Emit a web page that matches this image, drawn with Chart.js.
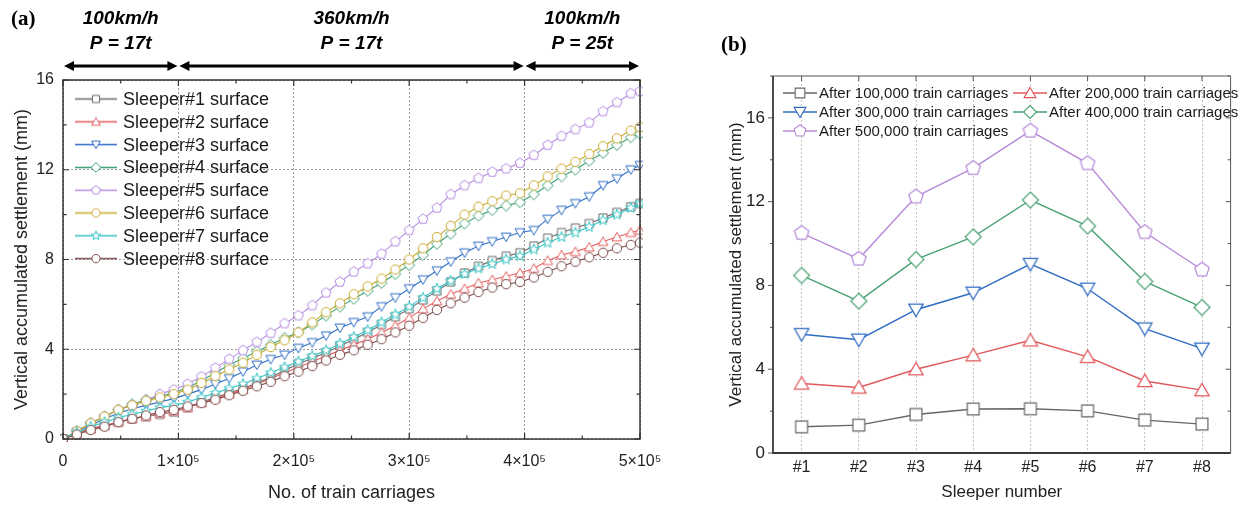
<!DOCTYPE html>
<html>
<head>
<meta charset="utf-8">
<script src="https://cdn.jsdelivr.net/npm/chart.js@4.4.0/dist/chart.umd.min.js"></script>
<style>
  body { margin: 0; background: #fff; width: 1239px; height: 506px; overflow: hidden; position: relative; }
  canvas { position: absolute; top: 0; }
  #chartA { left: 0; }
  #chartB { left: 680px; }
</style>
</head>
<body>
<canvas id="chartA" width="680" height="506"></canvas>
<canvas id="chartB" width="559" height="506"></canvas>
<script>
// ---- panel (a): settlement vs number of train carriages ----
const carriages = [0, 12000, 24000, 36000, 48000, 60000, 72000, 84000, 96000, 108000,
  120000, 132000, 144000, 156000, 168000, 180000, 192000, 204000, 216000, 228000,
  240000, 252000, 264000, 276000, 288000, 300000, 312000, 324000, 336000, 348000,
  360000, 372000, 384000, 396000, 408000, 420000, 432000, 444000, 456000, 468000,
  480000, 492000, 500000];

const sleeper1 = [0, 0.25, 0.45, 0.6, 0.75, 0.9, 1.0, 1.1, 1.2, 1.4, 1.65, 1.85, 2.05, 2.25, 2.5, 2.75, 3.05, 3.35, 3.6, 3.85, 4.15, 4.45, 4.75, 5.1, 5.45, 5.8, 6.2, 6.6, 7.0, 7.4, 7.7, 7.95, 8.15, 8.3, 8.6, 8.95, 9.2, 9.4, 9.6, 9.85, 10.1, 10.35, 10.5];
const sleeper2 = [0, 0.25, 0.45, 0.6, 0.75, 0.9, 1.0, 1.15, 1.25, 1.4, 1.6, 1.8, 2.0, 2.2, 2.45, 2.7, 2.95, 3.2, 3.45, 3.7, 3.95, 4.2, 4.45, 4.75, 5.05, 5.4, 5.8, 6.15, 6.45, 6.7, 6.95, 7.1, 7.25, 7.4, 7.6, 7.95, 8.2, 8.35, 8.55, 8.8, 9.0, 9.2, 9.3];
const sleeper3 = [0, 0.3, 0.6, 0.9, 1.15, 1.35, 1.5, 1.65, 1.8, 2.0, 2.2, 2.45, 2.7, 3.0, 3.3, 3.55, 3.75, 4.05, 4.3, 4.6, 4.95, 5.2, 5.45, 5.9, 6.3, 6.7, 7.1, 7.5, 7.9, 8.3, 8.6, 8.8, 9.0, 9.2, 9.3, 9.8, 10.2, 10.5, 10.8, 11.3, 11.6, 12.0, 12.2];
const sleeper4 = [0, 0.35, 0.7, 1.0, 1.3, 1.55, 1.75, 1.9, 2.05, 2.3, 2.6, 2.95, 3.3, 3.6, 3.9, 4.2, 4.5, 4.75, 5.1, 5.5, 5.9, 6.25, 6.6, 6.95, 7.35, 7.75, 8.2, 8.7, 9.15, 9.6, 9.95, 10.2, 10.4, 10.55, 10.9, 11.3, 11.7, 12.0, 12.4, 12.75, 13.1, 13.45, 13.6];
const sleeper5 = [0, 0.35, 0.7, 1.0, 1.3, 1.5, 1.72, 2.0, 2.2, 2.45, 2.78, 3.17, 3.56, 3.95, 4.32, 4.72, 5.15, 5.5, 5.95, 6.52, 7.0, 7.45, 7.82, 8.25, 8.8, 9.3, 9.8, 10.3, 10.9, 11.3, 11.62, 11.9, 12.05, 12.3, 12.65, 13.1, 13.5, 13.8, 14.1, 14.6, 15.0, 15.4, 15.5];
const sleeper6 = [0, 0.35, 0.7, 1.0, 1.3, 1.5, 1.7, 1.85, 2.0, 2.2, 2.5, 2.8, 3.1, 3.4, 3.75, 4.1, 4.4, 4.75, 5.2, 5.65, 6.05, 6.45, 6.8, 7.15, 7.55, 8.0, 8.5, 9.0, 9.5, 10.0, 10.35, 10.6, 10.85, 10.95, 11.3, 11.7, 12.05, 12.35, 12.7, 13.05, 13.4, 13.75, 13.9];
const sleeper7 = [0, 0.3, 0.55, 0.75, 0.95, 1.1, 1.25, 1.4, 1.5, 1.65, 1.85, 2.05, 2.25, 2.45, 2.7, 2.95, 3.2, 3.45, 3.7, 3.95, 4.25, 4.55, 4.85, 5.2, 5.55, 5.9, 6.3, 6.7, 7.05, 7.35, 7.6, 7.8, 8.0, 8.15, 8.45, 8.75, 9.0, 9.2, 9.45, 9.75, 10.0, 10.3, 10.5];
const sleeper8 = [0, 0.2, 0.4, 0.55, 0.75, 0.9, 1.05, 1.2, 1.3, 1.45, 1.6, 1.75, 1.95, 2.15, 2.35, 2.55, 2.8, 3.0, 3.25, 3.5, 3.75, 3.95, 4.2, 4.45, 4.75, 5.05, 5.4, 5.75, 6.05, 6.3, 6.55, 6.75, 6.9, 7.0, 7.2, 7.45, 7.7, 7.9, 8.1, 8.3, 8.5, 8.65, 8.75];

const sleeperLabels = ["Sleeper#1 surface", "Sleeper#2 surface", "Sleeper#3 surface", "Sleeper#4 surface",
  "Sleeper#5 surface", "Sleeper#6 surface", "Sleeper#7 surface", "Sleeper#8 surface"];
const xTickValues = [0, 100000, 200000, 300000, 400000, 500000];
const xTickLabels = ["0", "1×10⁵", "2×10⁵", "3×10⁵", "4×10⁵", "5×10⁵"];
const yTickValuesA = [0, 4, 8, 12, 16];

// loading stages above panel (a)
const stageBounds = [0, 100000, 400000, 500000];
const stageSpeeds = ["100km/h", "360km/h", "100km/h"];
const stageLoads = ["P = 17t", "P = 17t", "P = 25t"];

// ---- panel (b): settlement along the sleepers ----
const sleeperNumbers = ["#1", "#2", "#3", "#4", "#5", "#6", "#7", "#8"];
const after100k = [1.25, 1.33, 1.84, 2.1, 2.11, 2.01, 1.57, 1.38];
const after200k = [3.32, 3.13, 4.0, 4.67, 5.38, 4.59, 3.44, 3.0];
const after300k = [5.67, 5.41, 6.84, 7.65, 9.02, 7.84, 5.94, 4.98];
const after400k = [8.48, 7.25, 9.24, 10.32, 12.08, 10.83, 8.19, 6.95];
const after500k = [10.5, 9.27, 12.24, 13.6, 15.38, 13.83, 10.54, 8.75];
const afterLabels = ["After 100,000 train carriages", "After 200,000 train carriages",
  "After 300,000 train carriages", "After 400,000 train carriages", "After 500,000 train carriages"];
const yTickValuesB = [0, 4, 8, 12, 16];

const SANS = "'Liberation Sans', Arial, sans-serif";
const SERIF = "'Liberation Serif', 'Times New Roman', serif";
Chart.defaults.font.family = SANS;
Chart.defaults.color = "#222";

// marker shapes drawn onto small canvases (used as pointStyle images)
function tracePath(g, shape, r) {
  const poly = (n, rot, rad) => {
    for (let i = 0; i < n; i++) {
      const a = rot + i * 2 * Math.PI / n;
      if (i) g.lineTo(rad * Math.cos(a), rad * Math.sin(a));
      else g.moveTo(rad * Math.cos(a), rad * Math.sin(a));
    }
    g.closePath();
  };
  g.beginPath();
  if (shape === "square") g.rect(-r * 0.78, -r * 0.78, r * 1.56, r * 1.56);
  else if (shape === "circle") g.arc(0, 0, r * 0.9, 0, 2 * Math.PI);
  else if (shape === "triangle") { g.translate(0, r * 0.2); poly(3, -Math.PI / 2, r * 1.1); }
  else if (shape === "triangleDown") { g.translate(0, -r * 0.2); poly(3, Math.PI / 2, r * 1.1); }
  else if (shape === "diamond") poly(4, -Math.PI / 2, r * 1.05);
  else if (shape === "pentagon") poly(5, -Math.PI / 2, r);
  else if (shape === "star") {
    for (let i = 0; i < 10; i++) {
      const a = -Math.PI / 2 + i * Math.PI / 5;
      const rad = i % 2 ? r * 0.45 : r * 1.05;
      if (i) g.lineTo(rad * Math.cos(a), rad * Math.sin(a));
      else g.moveTo(rad * Math.cos(a), rad * Math.sin(a));
    }
    g.closePath();
  }
}

function markerImage(shape, color, r, lw) {
  const s = Math.ceil(2.4 * r + lw + 2);
  const c = document.createElement("canvas");
  c.width = s; c.height = s;
  const g = c.getContext("2d");
  g.translate(s / 2, s / 2);
  tracePath(g, shape, r);
  g.fillStyle = "#fff"; g.fill();
  g.strokeStyle = color; g.lineWidth = lw; g.stroke();
  return c;
}

function legendIcon(shape, color, r, lw, lineW, len) {
  const h = Math.ceil(2.4 * r + lw + 2);
  const c = document.createElement("canvas");
  c.width = len; c.height = h;
  const g = c.getContext("2d");
  g.strokeStyle = color; g.lineWidth = lineW;
  g.beginPath(); g.moveTo(0, h / 2); g.lineTo(len, h / 2); g.stroke();
  g.translate(len / 2, h / 2);
  tracePath(g, shape, r);
  g.fillStyle = "#fff"; g.fill();
  g.lineWidth = lw; g.stroke();
  return c;
}

function drawArrow(ctx, x1, x2, y) {
  const head = 10, half = 5;
  ctx.beginPath();
  ctx.moveTo(x1 + head - 1, y); ctx.lineTo(x2 - head + 1, y);
  ctx.stroke();
  ctx.beginPath();
  ctx.moveTo(x1, y); ctx.lineTo(x1 + head, y - half); ctx.lineTo(x1 + head, y + half); ctx.closePath();
  ctx.moveTo(x2, y); ctx.lineTo(x2 - head, y - half); ctx.lineTo(x2 - head, y + half); ctx.closePath();
  ctx.fill();
}

// ---------------- panel (a) ----------------
const seriesA = [sleeper1, sleeper2, sleeper3, sleeper4, sleeper5, sleeper6, sleeper7, sleeper8];
const colorsA = ["#6a6a6a", "#e35d5f", "#2f6ec4", "#3e9f72", "#b68be2", "#c9aa2e", "#34c4c4", "#7b4b4b"];
const shapesA = ["square", "triangle", "triangleDown", "diamond", "pentagon", "circle", "star", "circle"];

const panelAPlugin = {
  id: "panelA",
  afterDatasetsDraw(chart) {
    const { ctx, chartArea: a, scales: { x, y } } = chart;
    ctx.save();
    ctx.strokeStyle = "#333";
    ctx.lineWidth = 1.5;
    ctx.strokeRect(a.left, a.top, a.right - a.left, a.bottom - a.top);

    // inward ticks, major + minor
    ctx.lineWidth = 1.2;
    ctx.beginPath();
    for (let v = 0; v <= 500000; v += 50000) {
      const px = x.getPixelForValue(v);
      const len = v % 100000 === 0 ? 6 : 3.5;
      ctx.moveTo(px, a.bottom); ctx.lineTo(px, a.bottom - len);
      ctx.moveTo(px, a.top); ctx.lineTo(px, a.top + len);
    }
    for (let v = 0; v <= 16; v += 2) {
      const py = y.getPixelForValue(v);
      const len = v % 4 === 0 ? 6 : 3.5;
      ctx.moveTo(a.left, py); ctx.lineTo(a.left + len, py);
      ctx.moveTo(a.right, py); ctx.lineTo(a.right - len, py);
    }
    ctx.stroke();

    // legend inside plot
    ctx.font = "18px " + SANS;
    ctx.fillStyle = "#1a1a1a";
    ctx.textBaseline = "middle";
    ctx.textAlign = "left";
    chart.data.datasets.forEach((ds, i) => {
      const yy = a.top + 19 + i * 22.8;
      const icon = ds.legendIcon;
      ctx.drawImage(icon, a.left + 12, yy - icon.height / 2);
      ctx.fillText(ds.label, a.left + 60, yy + 1);
    });
    ctx.restore();
  },
  afterDraw(chart) {
    const { ctx, scales: { x } } = chart;
    ctx.save();
    ctx.fillStyle = "#000";
    ctx.strokeStyle = "#000";
    ctx.textBaseline = "middle";
    ctx.font = "bold 21px " + SERIF;
    ctx.textAlign = "left";
    ctx.fillText("(a)", 11, 20);

    ctx.font = "italic bold 19px " + SANS;
    ctx.textAlign = "center";
    ctx.lineWidth = 3;
    for (let i = 0; i < stageSpeeds.length; i++) {
      const x1 = x.getPixelForValue(stageBounds[i]);
      const x2 = x.getPixelForValue(stageBounds[i + 1]);
      const cx = (x1 + x2) / 2;
      ctx.fillText(stageSpeeds[i], cx, 19);
      ctx.fillText(stageLoads[i], cx, 44);
      drawArrow(ctx, x1 + 1, x2 - 1, 66);
    }
    ctx.restore();
  }
};

new Chart(document.getElementById("chartA"), {
  type: "line",
  data: {
    datasets: seriesA.map((vals, i) => ({
      label: sleeperLabels[i],
      data: carriages.map((c, j) => ({ x: c, y: vals[j] })),
      borderColor: colorsA[i],
      borderWidth: 1.1,
      pointStyle: markerImage(shapesA[i], colorsA[i], 5.2, 1),
      pointRadius: 5,
      pointHoverRadius: 5,
      tension: 0,
      clip: 3,
      order: 8 - i,
      legendIcon: legendIcon(shapesA[i], colorsA[i], 4.6, 1, 1.6, 42)
    }))
  },
  options: {
    responsive: false,
    animation: false,
    events: [],
    layout: { padding: { top: 80, right: 40, bottom: 0, left: 0 } },
    plugins: { legend: { display: false }, tooltip: { enabled: false } },
    scales: {
      x: {
        type: "linear",
        min: 0,
        max: 500000,
        afterBuildTicks: s => { s.ticks = xTickValues.map(v => ({ value: v })); },
        afterFit: s => { s.height = 67; },
        ticks: {
          callback: (v, i) => xTickLabels[i],
          font: { size: 16 },
          color: "#222",
          padding: 13,
          maxRotation: 0,
          autoSkip: false
        },
        grid: { color: "#9a9a9a", lineWidth: 1, drawTicks: false },
        border: { display: false, dash: [2, 2] },
        title: {
          display: true,
          text: "No. of train carriages",
          font: { size: 18 },
          color: "#222",
          padding: { top: 0, bottom: 2 }
        }
      },
      y: {
        min: 0,
        max: 16,
        afterBuildTicks: s => { s.ticks = yTickValuesA.map(v => ({ value: v })); },
        afterFit: s => { s.width = 63; },
        ticks: { font: { size: 16 }, color: "#222", padding: 9 },
        grid: { color: "#9a9a9a", lineWidth: 1, drawTicks: false },
        border: { display: false, dash: [2, 2] },
        title: {
          display: true,
          text: "Vertical accumulated settlement (mm)",
          font: { size: 18 },
          color: "#222",
          padding: { top: 11, bottom: 0 }
        }
      }
    }
  },
  plugins: [panelAPlugin]
});

// ---------------- panel (b) ----------------
const seriesB = [after100k, after200k, after300k, after400k, after500k];
const colorsB = ["#676767", "#e0585c", "#2f6cc2", "#4aa274", "#b58ad9"];
const shapesB = ["square", "triangle", "triangleDown", "diamond", "pentagon"];

const panelBPlugin = {
  id: "panelB",
  afterDatasetsDraw(chart) {
    const { ctx, chartArea: a, scales: { x, y } } = chart;
    ctx.save();
    // thin top / right border
    ctx.strokeStyle = "#555";
    ctx.lineWidth = 1;
    ctx.beginPath();
    ctx.moveTo(a.left, a.top); ctx.lineTo(a.right, a.top); ctx.lineTo(a.right, a.bottom);
    ctx.stroke();
    // ticks
    ctx.beginPath();
    for (let v = 0; v <= 18; v += 2) {
      const py = y.getPixelForValue(v);
      const len = v % 4 === 0 ? 5 : 3;
      ctx.moveTo(a.left, py); ctx.lineTo(a.left - len, py);
      ctx.moveTo(a.right, py); ctx.lineTo(a.right - len, py);
    }
    x.ticks.forEach((t, i) => {
      const px = x.getPixelForTick(i);
      ctx.moveTo(px, a.top); ctx.lineTo(px, a.top + 5);
    });
    ctx.stroke();
    // main axes
    ctx.strokeStyle = "#3a3a3a";
    ctx.lineWidth = 1.8;
    ctx.beginPath();
    ctx.moveTo(a.left, a.top); ctx.lineTo(a.left, a.bottom); ctx.lineTo(a.right, a.bottom);
    ctx.stroke();

    // legend, two columns
    ctx.font = "15px " + SANS;
    ctx.fillStyle = "#1a1a1a";
    ctx.textBaseline = "middle";
    ctx.textAlign = "left";
    chart.data.datasets.forEach((ds, i) => {
      const col = i % 2, row = Math.floor(i / 2);
      const x0 = a.left + 10 + col * 230;
      const yy = a.top + 17 + row * 19;
      const icon = ds.legendIcon;
      ctx.drawImage(icon, x0, yy - icon.height / 2);
      ctx.fillText(ds.label, x0 + icon.width + 2, yy + 1);
    });
    ctx.restore();
  },
  afterDraw(chart) {
    const { ctx } = chart;
    ctx.save();
    ctx.fillStyle = "#000";
    ctx.textBaseline = "middle";
    ctx.textAlign = "left";
    ctx.font = "bold 21px " + SERIF;
    ctx.fillText("(b)", 41, 46);
    ctx.restore();
  }
};

new Chart(document.getElementById("chartB"), {
  type: "line",
  data: {
    labels: sleeperNumbers,
    datasets: seriesB.map((vals, i) => ({
      label: afterLabels[i],
      data: vals,
      borderColor: colorsB[i],
      borderWidth: 1.4,
      pointStyle: markerImage(shapesB[i], colorsB[i], 7.6, 1.2),
      pointRadius: 7,
      pointHoverRadius: 7,
      tension: 0,
      legendIcon: legendIcon(shapesB[i], colorsB[i], 6.2, 1.1, 1.3, 34)
    }))
  },
  options: {
    responsive: false,
    animation: false,
    events: [],
    layout: { padding: { top: 76, right: 2, bottom: 0, left: 0 } },
    plugins: { legend: { display: false }, tooltip: { enabled: false } },
    scales: {
      x: {
        type: "category",
        offset: true,
        afterFit: s => { s.height = 53; },
        ticks: { font: { size: 16 }, color: "#222", padding: 5 },
        grid: { offset: false, color: "#c4c4c4", lineWidth: 1, drawTicks: false },
        border: { display: false, dash: [2, 2] },
        title: {
          display: true,
          text: "Sleeper number",
          font: { size: 17 },
          color: "#222",
          padding: { top: 0, bottom: 3 }
        }
      },
      y: {
        min: 0,
        max: 18,
        afterBuildTicks: s => { s.ticks = yTickValuesB.map(v => ({ value: v })); },
        afterFit: s => { s.width = 93; },
        ticks: { font: { size: 17 }, color: "#222", padding: 8 },
        grid: { drawOnChartArea: false, drawTicks: false },
        border: { display: false },
        title: {
          display: true,
          text: "Vertical accumulated settlement (mm)",
          font: { size: 17 },
          color: "#222",
          padding: { top: 46, bottom: 0 }
        }
      }
    }
  },
  plugins: [panelBPlugin]
});
</script>
</body>
</html>
